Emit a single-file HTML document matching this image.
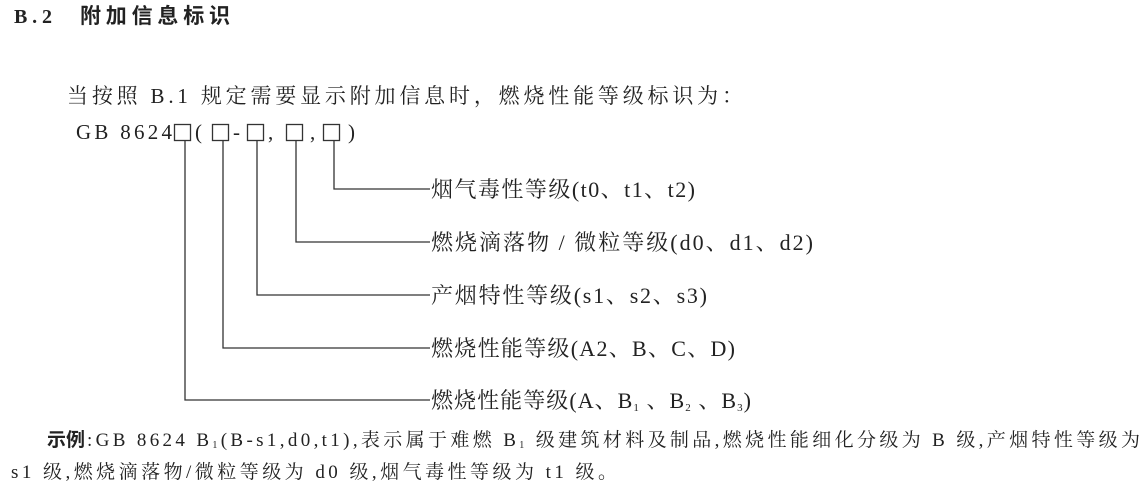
<!DOCTYPE html>
<html><head><meta charset="utf-8"><style>
html,body{margin:0;padding:0;background:#fff;width:1146px;height:490px;overflow:hidden}
svg{display:block}
text{font-family:"Liberation Serif","Noto Serif CJK SC",serif;fill:#222}
</style></head><body>
<svg width="1146" height="490" viewBox="0 0 1146 490">
<text x="14" y="23" font-size="20" font-weight="bold" textLength="38" lengthAdjust="spacing">B.2</text>
<text x="80" y="23" font-size="21" font-weight="bold" style="font-family:'Liberation Sans','Noto Sans CJK SC',sans-serif" textLength="150" lengthAdjust="spacing">附加信息标识</text>
<text x="67" y="103" font-size="21" textLength="676" lengthAdjust="spacing">当按照 B.1 规定需要显示附加信息时，燃烧性能等级标识为：</text>
<text x="76" y="139" font-size="21" textLength="96" lengthAdjust="spacing">GB 8624</text>
<g fill="none" stroke="#333" stroke-width="1.3">
<rect x="174.5" y="124.5" width="16" height="16"/>
<rect x="212.5" y="124.5" width="16" height="16"/>
<rect x="247.5" y="124.5" width="16" height="16"/>
<rect x="286.5" y="124.5" width="16" height="16"/>
<rect x="323.5" y="124.5" width="16" height="16"/>
<polyline points="185,141 185,400 430,400"/>
<polyline points="223,141 223,348 430,348"/>
<polyline points="257,141 257,295 430,295"/>
<polyline points="296,141 296,242 430,242"/>
<polyline points="334,141 334,189 430,189"/>
</g>
<text x="195" y="139" font-size="21">(</text>
<text x="233" y="139" font-size="21">-</text>
<text x="268" y="139" font-size="21">,</text>
<text x="310" y="139" font-size="21">,</text>
<text x="348" y="139" font-size="21">)</text>
<text x="431" y="197" font-size="22" textLength="264" lengthAdjust="spacing">烟气毒性等级(t0、t1、t2)</text>
<text x="431" y="250" font-size="22" textLength="382" lengthAdjust="spacing">燃烧滴落物 / 微粒等级(d0、d1、d2)</text>
<text x="431" y="303" font-size="22" textLength="276" lengthAdjust="spacing">产烟特性等级(s1、s2、s3)</text>
<text x="431" y="356" font-size="22" textLength="304" lengthAdjust="spacing">燃烧性能等级(A2、B、C、D)</text>
<text x="431" y="408" font-size="22" textLength="320" lengthAdjust="spacing">燃烧性能等级(A、B<tspan font-size="11" dy="3">1</tspan><tspan dy="-3"> 、B</tspan><tspan font-size="11" dy="3">2</tspan><tspan dy="-3"> 、B</tspan><tspan font-size="11" dy="3">3</tspan><tspan dy="-3">)</tspan></text>
<text x="47" y="446" font-size="19" font-weight="bold" style="font-family:'Liberation Sans','Noto Sans CJK SC',sans-serif">示例</text>
<text x="87" y="446" font-size="19" textLength="1053" lengthAdjust="spacing">:GB 8624 B<tspan font-size="10" dy="2">1</tspan><tspan dy="-2">(B-s1,d0,t1),表示属于难燃 B</tspan><tspan font-size="10" dy="2">1</tspan><tspan dy="-2"> 级建筑材料及制品,燃烧性能细化分级为 B 级,产烟特性等级为</tspan></text>
<text x="11" y="478" font-size="19" textLength="606" lengthAdjust="spacing">s1 级,燃烧滴落物/微粒等级为 d0 级,烟气毒性等级为 t1 级。</text>
</svg>
</body></html>
